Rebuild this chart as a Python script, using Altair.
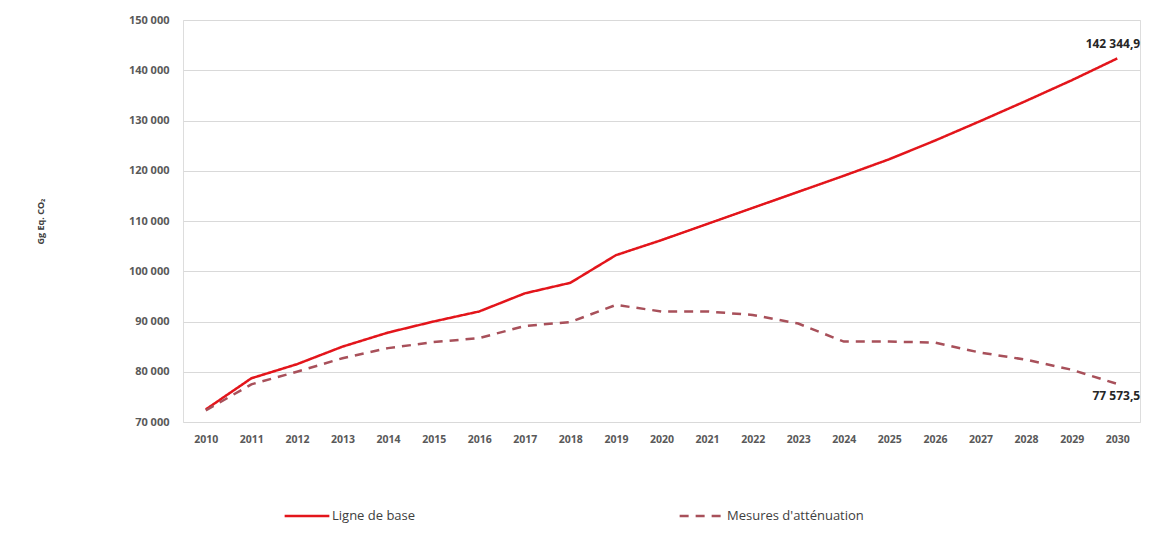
import altair as alt
import pandas as pd

years = [str(y) for y in range(2010, 2031)]
baseline = [72500, 78700, 81500, 85000, 87800, 90000, 92000, 95600, 97700, 103200,
            106200, 109400, 112600, 115800, 119000, 122300, 126000, 129900, 133900, 138000, 142344.9]
mitigation = [72300, 77500, 80000, 82700, 84700, 85900, 86700, 89100, 89900, 93300,
              92000, 92000, 91300, 89600, 86000, 86000, 85800, 83800, 82400, 80400, 77573.5]
series_names = ["Ligne de base", "Mesures d'atténuation"]
series_colors = ["#e3151b", "#a8505a"]
end_labels = ["142 344,9", "77 573,5"]
y_ticks = [70000, 80000, 90000, 100000, 110000, 120000, 130000, 140000, 150000]

rows = []
for i, y in enumerate(years):
    rows.append({"year": y, "value": baseline[i], "series": series_names[0],
                 "label": end_labels[0] if i == len(years) - 1 else ""})
    rows.append({"year": y, "value": mitigation[i], "series": series_names[1],
                 "label": end_labels[1] if i == len(years) - 1 else ""})
df = pd.DataFrame(rows)

FONT = "Open Sans"

x_enc = alt.X("year:N", sort=years,
              scale=alt.Scale(type="point", padding=0.5),
              axis=alt.Axis(title=None, labelAngle=0, domain=False, ticks=False,
                            labelFontSize=10.5, labelFontWeight="bold", labelColor="#595959",
                            labelFont=FONT, labelPadding=12, grid=False))
y_enc = alt.Y("value:Q",
              scale=alt.Scale(domain=[70000, 150000], nice=False, zero=False),
              axis=alt.Axis(values=y_ticks, title="Gg Eq. CO₂", domain=False, ticks=False,
                            labelExpr="replace(format(datum.value, ','), ',', ' ')",
                            labelFontSize=11, labelFontWeight="bold", labelColor="#595959",
                            labelFont=FONT, labelPadding=14,
                            gridColor="#d9d9d9", gridWidth=1,
                            titleFont=FONT, titleFontSize=9, titleFontWeight="bold",
                            titleColor="#404040", titleAngle=-90, titleX=-143, titleY=201,
                            titleAlign="center", titleBaseline="middle"))

legend_cfg = dict(title=None, orient="none", direction="horizontal",
                  legendX=100, legendY=472, symbolType="stroke",
                  symbolSize=2000, symbolStrokeWidth=2.5,
                  labelFont=FONT, labelFontSize=13, labelColor="#404040",
                  labelOffset=1, columnPadding=258)

lines = alt.Chart(df).mark_line(strokeWidth=2.5).encode(
    x=x_enc,
    y=y_enc,
    color=alt.Color("series:N", scale=alt.Scale(domain=series_names, range=series_colors),
                    legend=alt.Legend(**legend_cfg)),
    strokeDash=alt.StrokeDash("series:N",
                              scale=alt.Scale(domain=series_names, range=[[1, 0], [9, 7]]),
                              legend=alt.Legend(**legend_cfg)),
)

top_label = alt.Chart(df).transform_filter(
    (alt.datum.label != "") & (alt.datum.series == series_names[0])
).mark_text(align="right", baseline="middle", dx=23, dy=-14, fontSize=12,
            fontWeight="bold", font=FONT, color="#262626").encode(
    x=alt.X("year:N", sort=years), y="value:Q", text="label:N")

bot_label = alt.Chart(df).transform_filter(
    (alt.datum.label != "") & (alt.datum.series == series_names[1])
).mark_text(align="right", baseline="middle", dx=23, dy=12, fontSize=12,
            fontWeight="bold", font=FONT, color="#262626").encode(
    x=alt.X("year:N", sort=years), y="value:Q", text="label:N")

chart = alt.layer(lines, top_label, bot_label).properties(
    width=957, height=402,
    autosize=alt.AutoSizeParams(type="none"),
    padding={"left": 175, "top": 12, "right": 23, "bottom": 105},
).configure_view(stroke=None).configure(background="white")

chart.save("out.html", embed_options={"renderer": "svg", "actions": False})
